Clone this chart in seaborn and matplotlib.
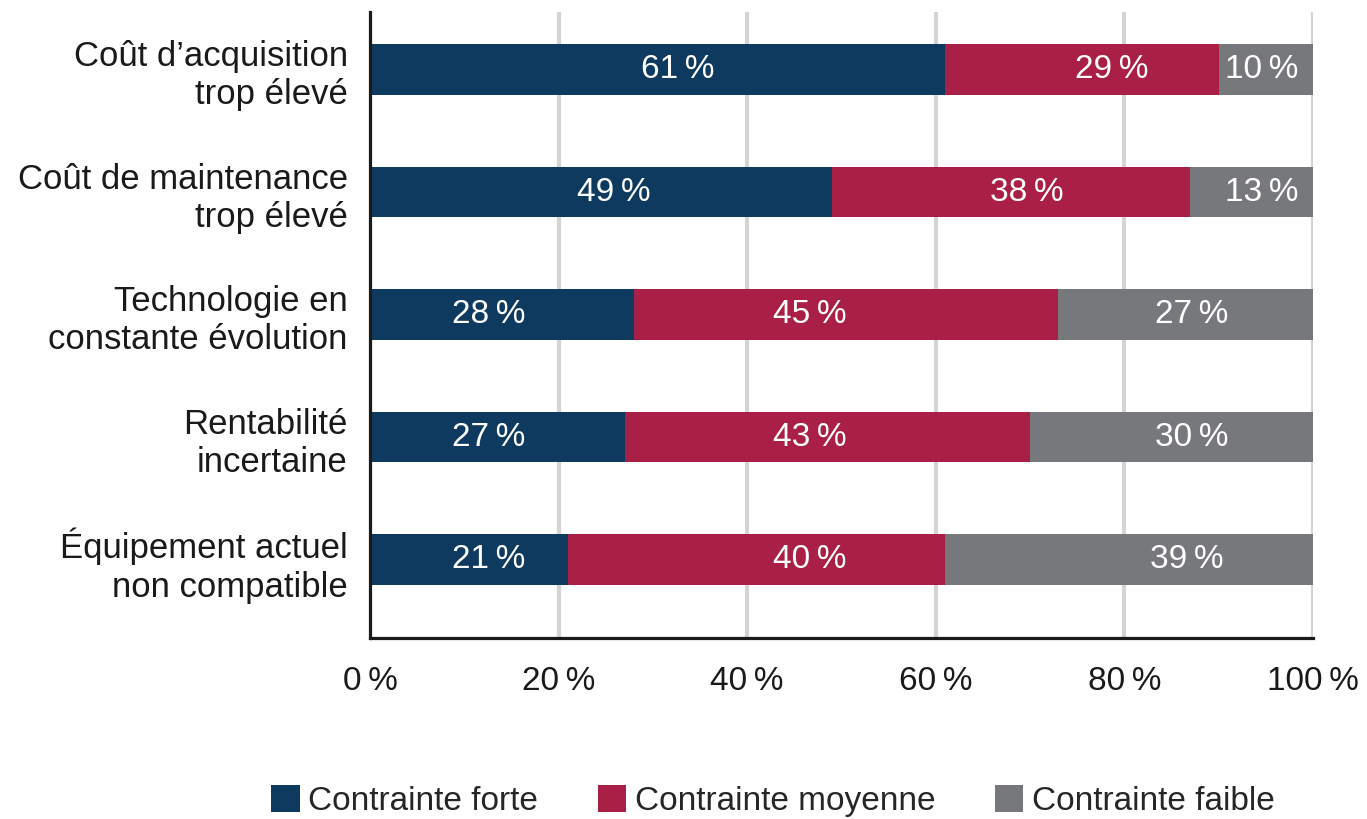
import matplotlib
matplotlib.use("Agg")
import matplotlib.pyplot as plt
import seaborn as sns
import pandas as pd
import numpy as np
from matplotlib.patches import Patch

# donnees
categories = [
    "Coût d\u2019acquisition\ntrop élevé",
    "Coût de maintenance\ntrop élevé",
    "Technologie en\nconstante évolution",
    "Rentabilité\nincertaine",
    "Équipement actuel\nnon compatible",
]
forte = [61, 49, 28, 27, 21]
moyenne = [29, 38, 45, 43, 40]
faible = [10, 13, 27, 30, 39]
series_names = ["Contrainte forte", "Contrainte moyenne", "Contrainte faible"]
x_ticks = [0, 20, 40, 60, 80, 100]

# position des etiquettes (en %)
label_pos = [
    [32.6, 78.7, 94.6],
    [25.9, 69.6, 94.6],
    [12.6, 46.6, 87.1],
    [12.6, 46.6, 87.1],
    [12.6, 46.6, 86.6],
]

colors = ["#0f3a5f", "#a91f45", "#77787b"]

sns.set_style("white")
plt.rcParams["font.family"] = ["Liberation Sans", "DejaVu Sans"]

df = pd.DataFrame({"cat": categories, "forte": forte, "moyenne": moyenne, "faible": faible})
df["c2"] = df["forte"] + df["moyenne"]
df["c3"] = df["c2"] + df["faible"]

fig = plt.figure(figsize=(13.67, 8.19), dpi=100)
ax = fig.add_axes([370 / 1367, 1 - 638 / 819, (1313 - 370) / 1367, (638 - 12) / 819])

for ax_x in x_ticks[1:]:
    ax.axvline(ax_x, color="#d4d4d4", lw=3, zorder=0)

# empilement: on dessine le total puis on recouvre
for col, c, z in [("c3", colors[2], 2), ("c2", colors[1], 3), ("forte", colors[0], 4)]:
    sns.barplot(data=df, y="cat", x=col, color=c, width=0.41, orient="h",
                saturation=1, linewidth=0, ax=ax, zorder=z)

vals = np.array([forte, moyenne, faible]).T
for i in range(len(categories)):
    for j in range(3):
        ax.text(label_pos[i][j], i, f"{vals[i][j]}\u2009%", color="white",
                ha="center", va="center", fontsize=24, zorder=5)

ax.set_xlim(0, 100)
ax.set_ylim(4.64, -0.47)
ax.set_xticks(x_ticks)
ax.set_xticklabels([f"{t}\u2009%" for t in x_ticks], fontsize=24, color="#1a1a1a")
ax.tick_params(axis="x", length=0, pad=20)
ax.tick_params(axis="y", length=0, pad=16, labelsize=25, labelcolor="#1a1a1a")
ax.set_xlabel("")
ax.set_ylabel("")
for s in ["top", "right"]:
    ax.spines[s].set_visible(False)
for s in ["left", "bottom"]:
    ax.spines[s].set_linewidth(2.3)
    ax.spines[s].set_color("#1a1a1a")
    ax.spines[s].set_zorder(6)

handles = [Patch(facecolor=c, edgecolor="none") for c in colors]
fig.legend(handles, series_names, loc="center", bbox_to_anchor=(773 / 1367, 1 - 801 / 819),
           ncol=3, frameon=False, fontsize=24, handlelength=0.85, handleheight=0.85,
           handletextpad=0.25, columnspacing=1.8)

fig.savefig("out.png", dpi=100)
